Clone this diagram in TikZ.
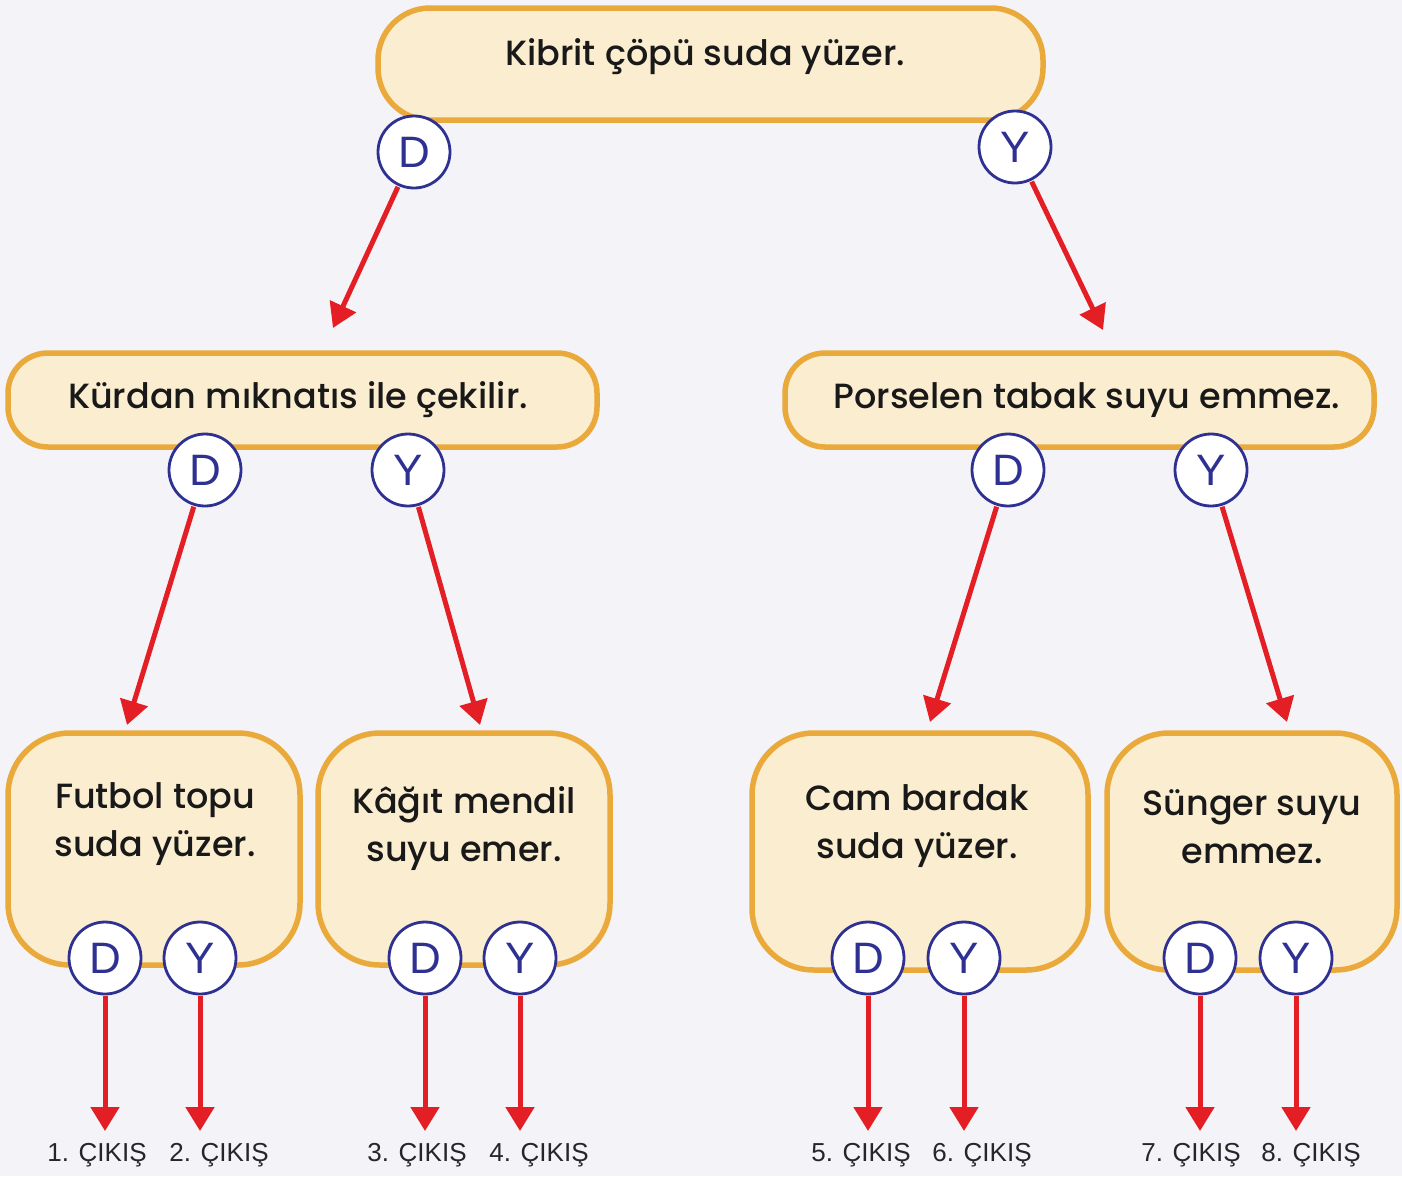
\documentclass[tikz,border=0pt]{standalone}
\usepackage{fontspec}
\setmainfont{Poppins}[UprightFont={* Medium}]
\newfontfamily\arialf{Liberation Sans}
\usetikzlibrary{arrows.meta}
\definecolor{bgc}{HTML}{F4F4F8}
\definecolor{boxfill}{HTML}{FBEDCF}
\definecolor{boxline}{HTML}{E9A93B}
\definecolor{navy}{HTML}{2E3192}
\definecolor{arrred}{HTML}{E31E24}
\tikzset{
  box/.style={draw=boxline, fill=boxfill, line width=5.5pt, inner sep=0pt},
  boxtxt/.style={font=\fontsize{35}{48}\selectfont, text=black!90, align=center, inner sep=0pt},
  dy/.style={circle, draw=navy, fill=white, line width=2.8pt, minimum size=72pt, inner sep=0pt,
     font=\arialf\fontsize{44}{44}\selectfont, text=navy},
  arr/.style={draw=arrred, line width=5pt, -{Triangle[width=28pt,length=24pt]}, shorten <=1pt},
  exitl/.style={font=\arialf\fontsize{26}{26}\selectfont, text=black!85, inner sep=0pt},
}
\begin{document}
\begin{tikzpicture}[x=1pt,y=-1pt]
\fill[bgc] (0,0) rectangle (1402,1176);
\useasboundingbox (0,0) rectangle (1402,1176);
% boxes
\node[box, rounded corners=52pt, minimum width=665pt, minimum height=112pt] (top) at (710.5,64) {};
\node[boxtxt] (toptxt) at (705,57) {Kibrit çöpü suda yüzer.};
\node[box, rounded corners=40pt, minimum width=589pt, minimum height=94pt] (ml) at (302.5,400) {};
\node[boxtxt] (mltxt) at (298,400) {Kürdan mıknatıs ile çekilir.};
\node[box, rounded corners=40pt, minimum width=589pt, minimum height=94pt] (mr) at (1079.5,400) {};
\node[boxtxt] (mrtxt) at (1087,400) {Porselen tabak suyu emmez.};
\node[box, rounded corners=62pt, minimum width=292pt, minimum height=232pt] (b1) at (154,849) {};
\node[boxtxt] (b1txt) at (155,824) {Futbol topu\\suda yüzer.};
\node[box, rounded corners=62pt, minimum width=292pt, minimum height=232pt] (b2) at (464,849) {};
\node[boxtxt] (b2txt) at (464,829) {Kâğıt mendil\\suyu emer.};
\node[box, rounded corners=62pt, minimum width=336pt, minimum height=237pt] (b3) at (920,851.5) {};
\node[boxtxt] (b3txt) at (917,826) {Cam bardak\\suda yüzer.};
\node[box, rounded corners=62pt, minimum width=290pt, minimum height=237pt] (b4) at (1252,851.5) {};
\node[boxtxt] (b4txt) at (1252,827) {Sünger suyu\\emmez.};
% circles
\node[dy] (tD) at (414,152) {D};
\node[dy] (tY) at (1015,147) {Y};
\node[dy] (lD) at (205,470) {D};
\node[dy] (lY) at (408,470) {Y};
\node[dy] (rD) at (1008,470) {D};
\node[dy] (rY) at (1211,470) {Y};
\node[dy] (b1D) at (105,958) {D};
\node[dy] (b1Y) at (200,958) {Y};
\node[dy] (b2D) at (425,958) {D};
\node[dy] (b2Y) at (520,958) {Y};
\node[dy] (b3D) at (868,958) {D};
\node[dy] (b3Y) at (964,958) {Y};
\node[dy] (b4D) at (1200,958) {D};
\node[dy] (b4Y) at (1296,958) {Y};
% arrow tips
\coordinate (ttD) at (333,328);
\coordinate (ttY) at (1103,330);
\coordinate (tlD) at (127,725);
\coordinate (tlY) at (480,725);
\coordinate (trD) at (930,722);
\coordinate (trY) at (1287,722);
\coordinate (e1) at (105,1131);
\coordinate (e2) at (200,1131);
\coordinate (e3) at (425,1131);
\coordinate (e4) at (520,1131);
\coordinate (e5) at (868,1131);
\coordinate (e6) at (964,1131);
\coordinate (e7) at (1200,1131);
\coordinate (e8) at (1296,1131);
% arrows
\draw[arr] (tD) -- (ttD);
\draw[arr] (tY) -- (ttY);
\draw[arr] (lD) -- (tlD);
\draw[arr] (lY) -- (tlY);
\draw[arr] (rD) -- (trD);
\draw[arr] (rY) -- (trY);
\draw[arr] (b1D) -- (e1);
\draw[arr] (b1Y) -- (e2);
\draw[arr] (b2D) -- (e3);
\draw[arr] (b2Y) -- (e4);
\draw[arr] (b3D) -- (e5);
\draw[arr] (b3Y) -- (e6);
\draw[arr] (b4D) -- (e7);
\draw[arr] (b4Y) -- (e8);
% exit labels
\node[exitl] (x1) at (97,1155) {1. ÇIKIŞ};
\node[exitl] (x2) at (219,1155) {2. ÇIKIŞ};
\node[exitl] (x3) at (417,1155) {3. ÇIKIŞ};
\node[exitl] (x4) at (539,1155) {4. ÇIKIŞ};
\node[exitl] (x5) at (861,1155) {5. ÇIKIŞ};
\node[exitl] (x6) at (982,1155) {6. ÇIKIŞ};
\node[exitl] (x7) at (1191,1155) {7. ÇIKIŞ};
\node[exitl] (x8) at (1311,1155) {8. ÇIKIŞ};
\end{tikzpicture}
\end{document}
